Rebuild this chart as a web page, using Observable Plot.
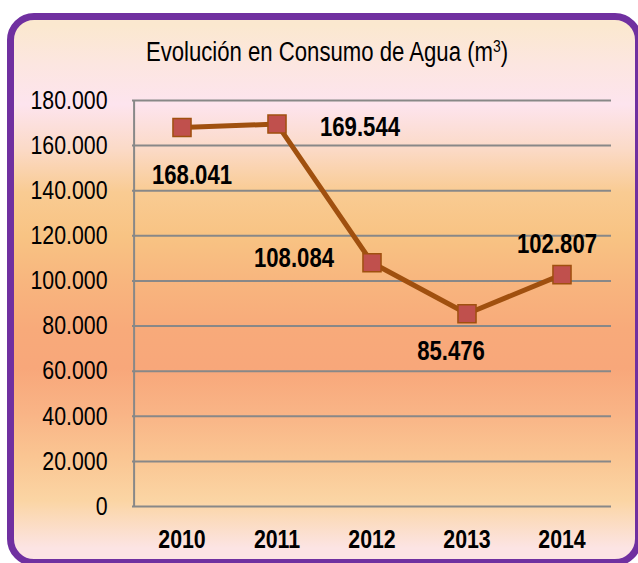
<!DOCTYPE html>
<html>
<head>
<meta charset="utf-8">
<script src="https://cdn.jsdelivr.net/npm/d3@7"></script>
<script src="https://cdn.jsdelivr.net/npm/@observablehq/plot@0.6"></script>
<style>
  body { margin: 0; background: #ffffff; }
  #wrap { position: relative; width: 638px; height: 563px; overflow: hidden; font-family: "Liberation Sans", Arial, sans-serif; }
  #frame {
    position: absolute; left: 7px; top: 13px; width: 635px; height: 553px;
    box-sizing: border-box; border: 7px solid #7030A0; border-radius: 27px;
    background: linear-gradient(to bottom,
      #FBE8CF 1%, #FCE6E0 8%, #FDE4EE 15.7%, #FBDAC7 23.9%, #F9CB92 32%,
      #F8C383 40.3%, #F8B57E 48.8%, #F8AA7A 57.3%, #F8A77A 64.6%,
      #F9B486 72.9%, #FAC592 81%, #FBD5A4 89.2%, #FCE4E4 98%);
  }
  #title { position: absolute; left: 0; top: 39px; width: 654px; text-align: center; font-size: 27px; line-height: 27px; color: #000; transform: scaleX(0.82); transform-origin: 327px 0; }
  #title sup { font-size: 17px; line-height: 0; vertical-align: 0.55em; }
  #chart { position: absolute; left: 0; top: 0; }
</style>
</head>
<body>
<div id="wrap">
  <div id="frame"></div>
  <div id="title">Evolución en Consumo de Agua (m<sup>3</sup>)</div>
  <div id="chart"></div>
</div>
<script>
const years = ["2010", "2011", "2012", "2013", "2014"];
const consumo = [168041, 169544, 108084, 85476, 102807];
const yTicks = [0, 20000, 40000, 60000, 80000, 100000, 120000, 140000, 160000, 180000];

const data = years.map((year, i) => ({year, value: consumo[i]}));
const fmt = d3.formatLocale({decimal: ",", thousands: ".", grouping: [3], currency: ["", "€"]}).format(",d");

const W = 638, H = 563, ML = 132, MR = 27, MT = 100, MB = 57;
const halfBand = (W - ML - MR) / years.length / 2;
const FONT = '"Liberation Sans", Arial, sans-serif';
const NARROW = 0.82;

const labelFor = (year, dx, dy) => Plot.text(data.filter(d => d.year === year), {
  x: "year", y: "value", text: d => fmt(d.value), dx, dy,
  fontSize: 27, fontWeight: "bold", fill: "#000", textAnchor: "middle", lineAnchor: "middle"
});

const chart = Plot.plot({
  width: W, height: H,
  marginLeft: ML, marginRight: MR, marginTop: MT, marginBottom: MB,
  style: {background: "transparent", fontFamily: FONT, overflow: "visible"},
  x: {type: "band", domain: years, padding: 0},
  y: {domain: [0, 180000]},
  marks: [
    Plot.gridY(yTicks, {stroke: "#888888", strokeOpacity: 1, strokeWidth: 2}),
    Plot.ruleX([years[0]], {dx: -halfBand, stroke: "#888888", strokeWidth: 2}),
    Plot.axisY({ticks: yTicks, tickSize: 0, tickPadding: 25, tickFormat: fmt, fontSize: 26, fill: "#000", label: null}),
    Plot.axisX({tickSize: 0, tickPadding: 23, fontSize: 26, fontWeight: "bold", fill: "#000", label: null}),
    Plot.line(data, {x: "year", y: "value", stroke: "#A0500F", strokeWidth: 5}),
    Plot.dot(data, {x: "year", y: "value", symbol: "square", r: 10.2, fill: "#C0504D", stroke: "#A0500F", strokeWidth: 1.5}),
    labelFor("2010", 10, 48),
    labelFor("2011", 83, 3),
    labelFor("2012", -78, -4),
    labelFor("2013", -16, 38),
    labelFor("2014", -5, -30)
  ]
});
document.getElementById("chart").appendChild(chart);

// Condense text horizontally (Arial Narrow look), keeping anchors in place.
chart.querySelectorAll("text").forEach(t => {
  const L = t.getComputedTextLength();
  if (L > 0) {
    t.setAttribute("textLength", (L * NARROW).toFixed(2));
    t.setAttribute("lengthAdjust", "spacingAndGlyphs");
  }
});
</script>
</body>
</html>
